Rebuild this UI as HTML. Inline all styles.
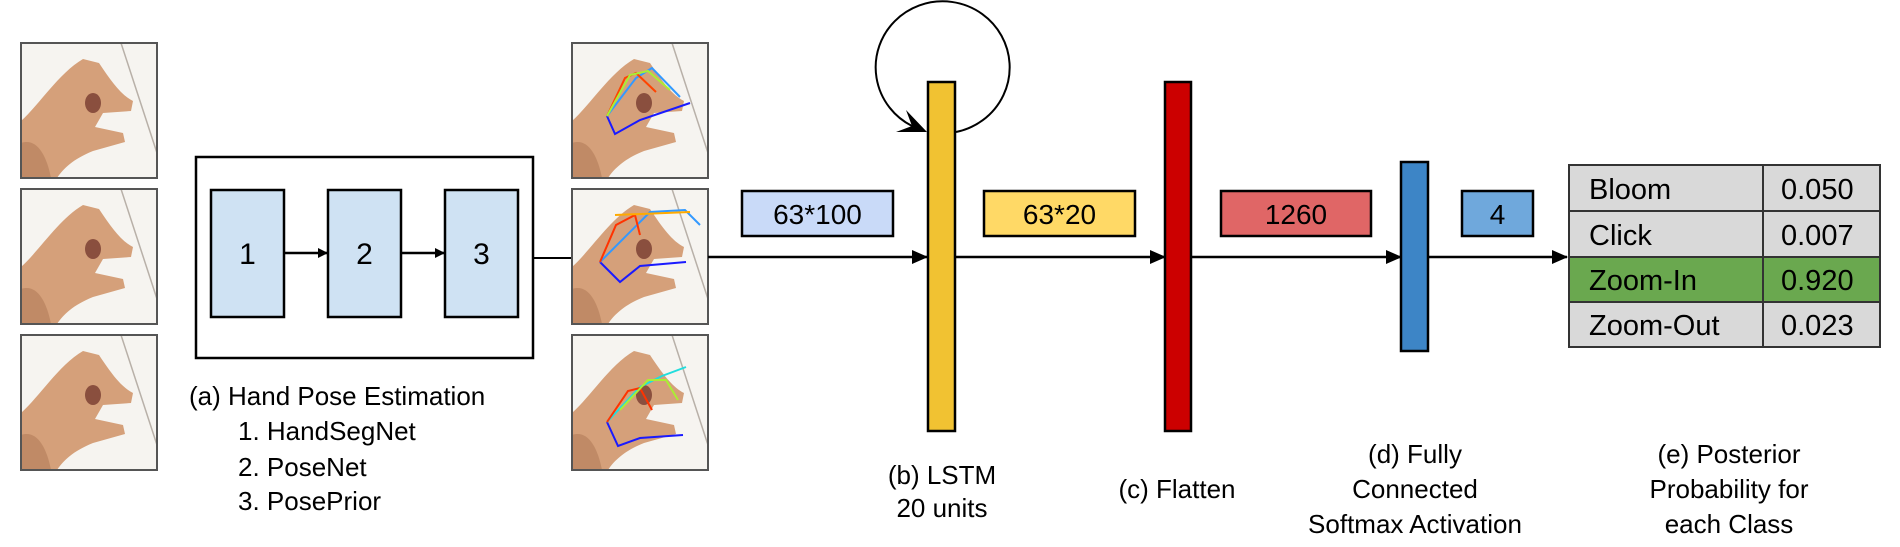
<!DOCTYPE html>
<html><head><meta charset="utf-8"><style>
html,body{margin:0;padding:0;background:#fff;}
svg{display:block;font-family:"Liberation Sans",sans-serif;}
</style></head><body>
<svg width="1900" height="547" viewBox="0 0 1900 547">
<defs>
<marker id="ah" markerWidth="10" markerHeight="10" refX="9" refY="5" orient="auto" markerUnits="userSpaceOnUse">
<path d="M0,0 L10,5 L0,10 Z" fill="#000"/></marker>
<marker id="ah2" markerWidth="16" markerHeight="14" refX="15" refY="7" orient="auto" markerUnits="userSpaceOnUse">
<path d="M0,0 L16,7 L0,14 Z" fill="#000"/></marker>
<g id="hand">
<rect x="0" y="0" width="136" height="135" fill="#f6f4f0"/>
<line x1="100" y1="0" x2="136" y2="110" stroke="#b8b0a8" stroke-width="1.5"/>
<path d="M0,135 L0,78 C18,62 38,30 62,16 L78,20 C90,38 100,52 112,58 L110,68 L82,70 L74,84 L102,90 L104,99 L72,108 C52,116 42,126 36,135 Z" fill="#d5a07a"/>
<path d="M0,135 L0,100 C15,95 25,110 30,135 Z" fill="#c08a66"/>
<ellipse cx="72" cy="60" rx="8" ry="10" fill="#8a4f3e"/>
</g>
</defs>

<!-- input photos -->
<g>
<use href="#hand" x="21" y="43"/><rect x="21" y="43" width="136" height="135" fill="none" stroke="#555" stroke-width="2"/>
<use href="#hand" x="21" y="189"/><rect x="21" y="189" width="136" height="135" fill="none" stroke="#555" stroke-width="2"/>
<use href="#hand" x="21" y="335"/><rect x="21" y="335" width="136" height="135" fill="none" stroke="#555" stroke-width="2"/>
</g>

<!-- pose estimation box -->
<g>
<rect x="196" y="157" width="337" height="201" fill="#fff" stroke="#000" stroke-width="2.5"/>
<rect x="211" y="190" width="73" height="127" fill="#cfe2f3" stroke="#000" stroke-width="2.5"/>
<rect x="328" y="190" width="73" height="127" fill="#cfe2f3" stroke="#000" stroke-width="2.5"/>
<rect x="445" y="190" width="73" height="127" fill="#cfe2f3" stroke="#000" stroke-width="2.5"/>
<text x="247.5" y="264" font-size="30" text-anchor="middle">1</text>
<text x="364.5" y="264" font-size="30" text-anchor="middle">2</text>
<text x="481.5" y="264" font-size="30" text-anchor="middle">3</text>
<line x1="284" y1="253" x2="327" y2="253" stroke="#000" stroke-width="2.5" marker-end="url(#ah)"/>
<line x1="401" y1="253" x2="444" y2="253" stroke="#000" stroke-width="2.5" marker-end="url(#ah)"/>
</g>
<line x1="533" y1="258" x2="572" y2="258" stroke="#000" stroke-width="2"/>
<g font-size="26">
<text x="189" y="405">(a) Hand Pose Estimation</text>
<text x="238" y="440">1. HandSegNet</text>
<text x="238" y="476">2. PoseNet</text>
<text x="238" y="510">3. PosePrior</text>
</g>

<!-- output photos with skeletons -->
<g>
<use href="#hand" x="572" y="43"/>
<use href="#hand" x="572" y="189"/>
<use href="#hand" x="572" y="335"/>
<g fill="none" stroke-width="2">
<polyline points="607,116 615,134 640,120 690,103" stroke="#1a1aff"/>
<polyline points="607,116 636,78 652,68 680,97" stroke="#3399ff"/>
<polyline points="607,116 625,78 636,73 656,92" stroke="#ff4400"/>
<polyline points="607,116 630,75 648,71 670,90" stroke="#aaee33"/>
<polyline points="600,262 620,282 640,266 686,262" stroke="#1a1aff"/>
<polyline points="600,262 650,212 685,210 700,225" stroke="#3399ff"/>
<polyline points="600,262 616,225 635,215 640,235" stroke="#ff3300"/>
<polyline points="615,215 690,212" stroke="#ffaa00"/>
<polyline points="607,422 618,446 640,438 683,435" stroke="#1a1aff"/>
<polyline points="607,422 640,387 662,376 686,367" stroke="#22dddd"/>
<polyline points="607,422 628,391 640,388 652,410" stroke="#ff3300"/>
<polyline points="620,410 648,380 666,380 678,400" stroke="#aaee33"/>
</g>
<rect x="572" y="43" width="136" height="135" fill="none" stroke="#555" stroke-width="2"/>
<rect x="572" y="189" width="136" height="135" fill="none" stroke="#555" stroke-width="2"/>
<rect x="572" y="335" width="136" height="135" fill="none" stroke="#555" stroke-width="2"/>
</g>

<!-- main flow -->
<line x1="708" y1="257" x2="927" y2="257" stroke="#000" stroke-width="2.5" marker-end="url(#ah2)"/>
<rect x="742" y="191" width="151" height="45" fill="#c9daf8" stroke="#000" stroke-width="2.5"/>
<text x="817.5" y="224" font-size="28" text-anchor="middle">63*100</text>

<path d="M956,132 A67,66 0 1 0 912,126" fill="none" stroke="#000" stroke-width="2"/>
<path d="M896,132 L927,132 L906,110 L912,126 Z" fill="#000"/>
<rect x="928" y="82" width="27" height="349" fill="#f1c232" stroke="#000" stroke-width="2.5"/>
<text x="942" y="484" font-size="26" text-anchor="middle">(b) LSTM</text>
<text x="942" y="517" font-size="26" text-anchor="middle">20 units</text>

<line x1="955" y1="257" x2="1165" y2="257" stroke="#000" stroke-width="2.5" marker-end="url(#ah2)"/>
<rect x="984" y="191" width="151" height="45" fill="#ffd966" stroke="#000" stroke-width="2.5"/>
<text x="1059.5" y="224" font-size="28" text-anchor="middle">63*20</text>

<rect x="1165" y="82" width="26" height="349" fill="#cc0000" stroke="#000" stroke-width="2.5"/>
<text x="1177" y="498" font-size="26" text-anchor="middle">(c) Flatten</text>

<line x1="1191" y1="257" x2="1401" y2="257" stroke="#000" stroke-width="2.5" marker-end="url(#ah2)"/>
<rect x="1221" y="191" width="150" height="45" fill="#e06666" stroke="#000" stroke-width="2.5"/>
<text x="1296" y="224" font-size="28" text-anchor="middle">1260</text>

<rect x="1401" y="162" width="27" height="189" fill="#3d85c6" stroke="#000" stroke-width="2.5"/>
<g font-size="26" text-anchor="middle">
<text x="1415" y="463">(d) Fully</text>
<text x="1415" y="498">Connected</text>
<text x="1415" y="533">Softmax Activation</text>
</g>

<line x1="1428" y1="257" x2="1567" y2="257" stroke="#000" stroke-width="2.5" marker-end="url(#ah2)"/>
<rect x="1462" y="191" width="71" height="45" fill="#6fa8dc" stroke="#000" stroke-width="2.5"/>
<text x="1497.5" y="224" font-size="28" text-anchor="middle">4</text>

<!-- probability table -->
<g font-size="29">
<rect x="1569" y="165" width="311" height="46" fill="#d9d9d9" stroke="#333" stroke-width="2"/>
<rect x="1569" y="211" width="311" height="46" fill="#d9d9d9" stroke="#333" stroke-width="2"/>
<rect x="1569" y="257" width="311" height="45" fill="#6aa84f" stroke="#333" stroke-width="2"/>
<rect x="1569" y="302" width="311" height="45" fill="#d9d9d9" stroke="#333" stroke-width="2"/>
<line x1="1763" y1="165" x2="1763" y2="347" stroke="#333" stroke-width="2"/>
<text x="1589" y="199">Bloom</text><text x="1781" y="199">0.050</text>
<text x="1589" y="245">Click</text><text x="1781" y="245">0.007</text>
<text x="1589" y="290">Zoom-In</text><text x="1781" y="290">0.920</text>
<text x="1589" y="335">Zoom-Out</text><text x="1781" y="335">0.023</text>
</g>
<g font-size="26" text-anchor="middle">
<text x="1729" y="463">(e) Posterior</text>
<text x="1729" y="498">Probability for</text>
<text x="1729" y="533">each Class</text>
</g>
</svg>
</body></html>
